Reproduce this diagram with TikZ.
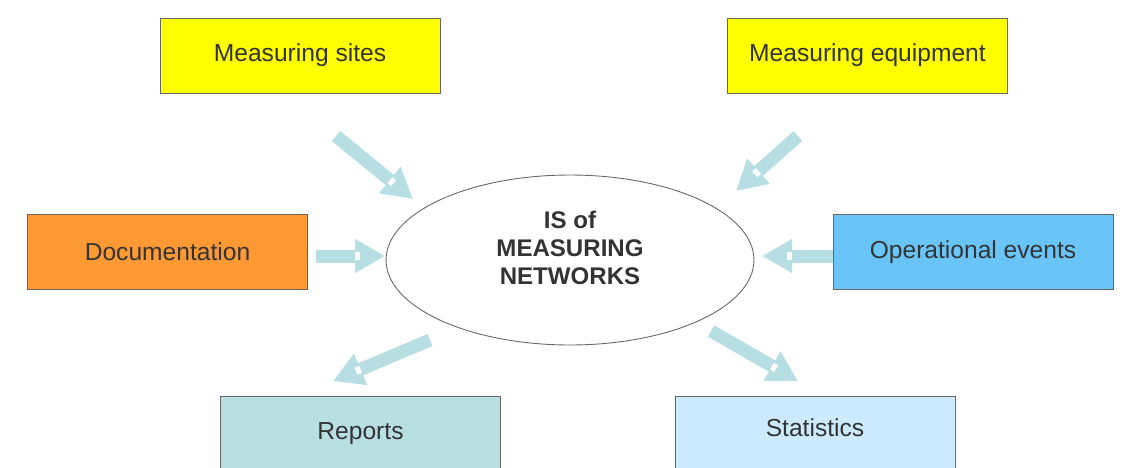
\documentclass[tikz,border=0pt]{standalone}
\usepackage{fontspec}
\setmainfont{Liberation Sans}
\usetikzlibrary{shapes.geometric,arrows.meta,calc}

\definecolor{sitesyellow}{HTML}{FFFF00}
\definecolor{docorange}{HTML}{FF9933}
\definecolor{eventblue}{HTML}{69C5F8}
\definecolor{reportcyan}{HTML}{B8DFE2}
\definecolor{statblue}{HTML}{CCEBFF}
\definecolor{flowblue}{HTML}{B7DFE3}
\definecolor{boxgray}{HTML}{666666}
\definecolor{textgray}{HTML}{333333}

\tikzset{
  box/.style={draw=boxgray, line width=0.5pt, minimum width=5.6cm, minimum height=1.5cm,
    inner sep=0pt, font=\fontsize{14}{16}\selectfont, text=textgray},
  flow/.style={draw=flowblue, line width=0.26cm, -{Triangle[length=0.6cm,width=0.64cm]}},
  notch/.style={draw=white, line width=0.15cm}
}

\begin{document}
\begin{tikzpicture}[x=0.02cm,y=-0.02cm]
\useasboundingbox (0,0) rectangle (1129,467);
\clip (0,0) rectangle (1129,467);

% boxes
\node[box,fill=sitesyellow] (sites) at (300,55.5) {Measuring sites};
\node[box,fill=sitesyellow] (equip) at (867.5,55.5) {Measuring equipment};
\node[box,fill=docorange] (docs) at (167.5,252) {Documentation};
\node[box,fill=eventblue] (events) at (973,252) {Operational events};
\node[box,fill=reportcyan] (reports) at (360.5,433.5) {Reports};
\node[box,fill=statblue,text depth=0.24cm] (stats) at (815,433.5) {Statistics};

% centre
\node[ellipse,draw=boxgray,line width=0.5pt,minimum width=7.36cm,minimum height=3.4cm,inner sep=0pt] (is) at (570,260) {};
\node[font=\bfseries\fontsize{13.7}{15.8}\selectfont,align=center,text=textgray] (istitle) at (570,248) {IS of\\MEASURING\\NETWORKS};

% arrows
\coordinate (s1) at (336,136); \coordinate (e1) at (413,199);
\coordinate (s2) at (798,136); \coordinate (e2) at (736,191);
\coordinate (s3) at (316,256); \coordinate (e3) at (385,256);
\coordinate (s4) at (833,256); \coordinate (e4) at (762,256);
\coordinate (s5) at (430,340); \coordinate (e5) at (333,381);
\coordinate (s6) at (711,331); \coordinate (e6) at (798,381);

\foreach \i in {1,...,6}{
  \draw[flow] (s\i) -- (e\i);
  \draw[notch] ($(e\i)!0.6cm!(s\i)$) -- ($(e\i)!0.5cm!(s\i)$);
}

\end{tikzpicture}
\end{document}
